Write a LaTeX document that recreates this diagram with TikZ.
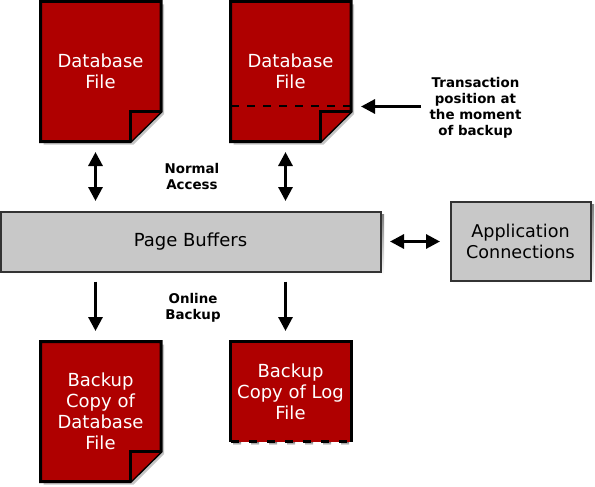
\documentclass[tikz,border=0pt]{standalone}
\usepackage{fontspec}
\setmainfont{DejaVu Sans}
\usetikzlibrary{arrows.meta}
\definecolor{docred}{HTML}{AF0000}
\definecolor{boxgray}{HTML}{C8C8C8}
\definecolor{shade}{HTML}{C4C4C4}
\definecolor{edgegray}{HTML}{333333}
\tikzset{
  x=1pt,y=-1pt,
  doctext/.style={text=white,font=\fontsize{18}{21}\selectfont,align=center,inner sep=0pt,minimum width=121pt},
  docpage/.style={draw=black,line width=3pt,fill=docred,miter limit=10},
  docshadow/.style={fill=shade,draw=none},
  graybox/.style={draw=edgegray,line width=2pt,fill=boxgray,text=black,align=center,inner sep=0pt,font=\fontsize{17.6}{21}\selectfont},
  note/.style={font=\bfseries\fontsize{13.4}{16}\selectfont,align=center,inner sep=0pt,text=black},
  arr/.style={line width=3pt,draw=black},
  both/.style={arr,{Triangle[length=14pt,width=14pt]}-{Triangle[length=14pt,width=14pt]}},
  single/.style={arr,-{Triangle[length=14pt,width=14pt]}},
  cutline/.style={line width=2pt,draw=black,dash pattern=on 8pt off 8pt},
}
\newcommand{\docshape}[2]{%
  % #1 = left x, #2 = top y
  \fill[docshadow] (#1+3,#2+3) -- (#1+123.5,#2+3) -- (#1+123.5,#2+112.5) -- (#1+93,#2+143) -- (#1+3,#2+143) -- cycle;
  \draw[docpage] (#1,#2) -- (#1+120.5,#2) -- (#1+120.5,#2+110) -- (#1+90,#2+140) -- (#1,#2+140) -- cycle;
  \draw[docpage] (#1+90,#2+140) -- (#1+90,#2+110) -- (#1+120.5,#2+110);
}
\begin{document}
\begin{tikzpicture}
\useasboundingbox (0,0) rectangle (595,487);
\docshape{40.5}{1.5}
\docshape{230.5}{1.5}
\docshape{40.5}{341.5}
% log file copy
\foreach \i in {0,...,6} \fill[shade] (233+18*\i,442) rectangle (241+18*\i,445);
\fill[docred] (230.5,341.5) rectangle (351,441.5);
\draw[line width=3pt,draw=black] (230.5,441.5) -- (230.5,341.5) -- (351,341.5) -- (351,441.5);
\draw[line width=3pt,draw=black,dash pattern=on 8pt off 10pt] (231,441.5) -- (351,441.5);

\fill[shade] (3,214) rectangle (384,275);
\fill[shade] (453,204) rectangle (594,284);
\node[doctext] (db1) at (100.5,71.5) {Database\\File};
\node[doctext] (db2) at (290.5,71.5) {Database\\File};
\node[doctext] (bk1) at (100.5,411.5) {Backup\\Copy of\\Database\\File};
\node[doctext] (bk2) at (290.5,391.5) {Backup\\Copy of Log\\File};
\node[graybox,minimum width=380pt,minimum height=60pt] (buf) at (190.5,241.5) {\raisebox{-1pt}{\fontsize{18}{21}\selectfont Page Buffers}};
\node[graybox,minimum width=140pt,minimum height=79pt] (app) at (520.5,241.5) {Application\\Connections};
\node[note] (na) at (192,177) {Normal\\Access};
\node[note] (ob) at (193,308) {Online\\Backup};
\node[note] (tx) at (475.5,108) {Transaction\\position at\\the moment\\of backup};

\coordinate (c1) at (95.5,141.5);
\coordinate (c2) at (285.5,141.5);
\coordinate (d1) at (95.5,341.5);
\coordinate (d2) at (285.5,341.5);
\coordinate (m1) at (231,106.5);
\coordinate (m2) at (351,106.5);
\coordinate (t1) at (421,106.5);
\draw[cutline] (m1) -- (m2);

\draw[both,shorten <=10.5pt,shorten >=9.5pt] (c1) -- (buf.north -| c1);
\draw[both,shorten <=10.5pt,shorten >=9.5pt] (c2) -- (buf.north -| c2);
\draw[single,shorten <=9pt,shorten >=10.5pt] (buf.south -| d1) -- (d1);
\draw[single,shorten <=9pt,shorten >=10.5pt] (buf.south -| d2) -- (d2);
\draw[both,shorten <=8.5pt,shorten >=9.5pt] (buf.east) -- (app.west);
\draw[single,shorten >=10pt] (t1) -- (m2);
\end{tikzpicture}
\end{document}
